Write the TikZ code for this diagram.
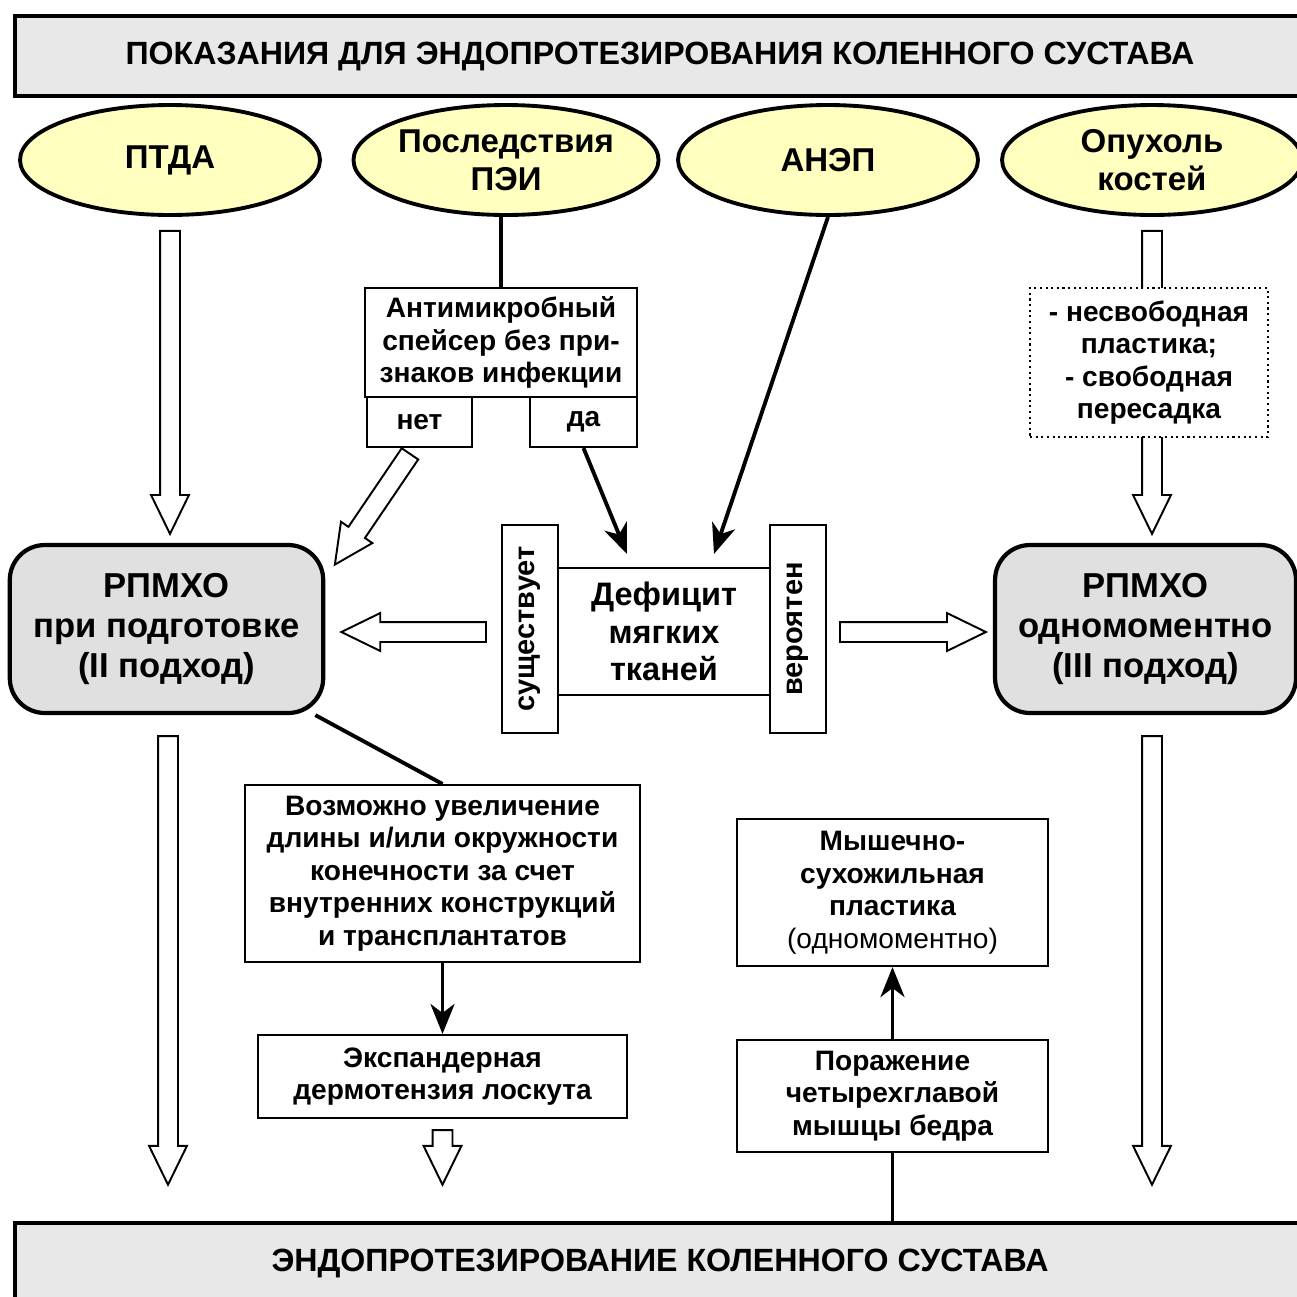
\documentclass[tikz,border=0pt]{standalone}
\usepackage{fontspec}
\setmainfont{Liberation Sans}
\usetikzlibrary{positioning}
\usetikzlibrary{calc}
\usetikzlibrary{arrows.meta}
\usetikzlibrary{shapes.geometric}
\usetikzlibrary{shapes.arrows}
\definecolor{ovalfill}{RGB}{255,255,192}
\definecolor{bannerfill}{RGB}{232,232,232}
\definecolor{approachfill}{RGB}{224,224,224}
\tikzset{
  banner/.style={draw, line width=2.6pt, fill=bannerfill, minimum width=25.8cm, minimum height=1.6cm, font=\fontsize{18.3}{21}\selectfont\bfseries},
  oval/.style={ellipse, draw, line width=2.2pt, fill=ovalfill, minimum width=6cm, minimum height=2.2cm, inner sep=0pt, align=center, font=\fontsize{18.8}{21.5}\selectfont\bfseries},
  approach/.style={draw, line width=2.4pt, fill=approachfill, rounded corners=0.7cm, minimum height=3.36cm, align=center, font=\fontsize{19.7}{22.7}\selectfont\bfseries},
  box/.style={draw, line width=1.2pt, fill=white, align=center, inner sep=0pt, font=\fontsize{16}{18.5}\selectfont\bfseries},
  bigtext/.style={font=\fontsize{18.5}{21.5}\selectfont\bfseries},
  sidetext/.style={font=\fontsize{16.5}{19}\selectfont\bfseries},
  hollow/.style={single arrow, draw, line width=1.1pt, fill=white, inner xsep=0pt, inner ysep=0.18cm, single arrow head extend=0.18cm, single arrow tip angle=52, single arrow head indent=0pt},
  link/.style={line width=2.2pt, -{Stealth[length=0.6cm, width=0.48cm, inset=0.18cm]}},
}
\newcommand{\hollowarrow}[2]{%
  \path let \p1=(#1), \p2=(#2), \n1={veclen(\x2-\x1,\y2-\y1)}, \n2={atan2(\y2-\y1,\x2-\x1)} in
    node[hollow, minimum height=\n1, rotate=\n2, anchor=tail] at (\p1) {};}

\begin{document}
\begin{tikzpicture}[x=0.02cm, y=-0.02cm]
  \useasboundingbox (0,0) rectangle (1297,1296);
  \clip (0,0) rectangle (1297,1296);

  \node[banner] (top) at (660,56) {ПОКАЗАНИЯ ДЛЯ ЭНДОПРОТЕЗИРОВАНИЯ КОЛЕННОГО СУСТАВА};
  \node[banner] (bottom) at (660,1263) {ЭНДОПРОТЕЗИРОВАНИЕ КОЛЕННОГО СУСТАВА};

  \foreach \n/\x/\t in {ptda/170/ПТДА, pei/506/{Последствия\\ПЭИ}, anep/828/АНЭП, tumor/1152/{Опухоль\\костей}} {
    \node[oval] (\n) at (\x,160) {\t};
  }

  \node[approach, minimum width=6.27cm] (rpl) at (166.5,629) {РПМХО\\при подготовке\\(II подход)};
  \node[approach, minimum width=6.02cm] (rpr) at (1145.5,629) {РПМХО\\одномоментно\\(III подход)};

  \node[box, minimum width=5.44cm, minimum height=2.18cm] (spacer) at (501,342.5) {Антимикробный\\спейсер без при-\\знаков инфекции};
  \node[box, minimum width=2.1cm, minimum height=1cm] (no) at (419.5,422) {нет};
  \node[box, minimum width=2.14cm, minimum height=1cm] (yes) at (583.5,422) {да};

  \node[box, bigtext, minimum width=4.24cm, minimum height=2.54cm] (deficit) at (664,631.5) {Дефицит\\мягких\\тканей};
  \node[box, sidetext, rotate=90, minimum width=4.16cm, minimum height=1.12cm] (exists) at (530,629) {существует};
  \node[box, sidetext, rotate=90, minimum width=4.16cm, minimum height=1.12cm] (likely) at (798,629) {вероятен};

  \node[box, minimum width=7.9cm, minimum height=3.54cm] (growth) at (442.5,873.5) {Возможно увеличение\\длины и/или окружности\\конечности за счет\\внутренних конструкций\\и трансплантатов};
  \node[box, minimum width=7.38cm, minimum height=1.66cm] (expander) at (442.5,1076.5) {Экспандерная\\дермотензия лоскута};
  \node[box, minimum width=6.22cm, minimum height=2.94cm] (plasty) at (892.5,892.5) {Мышечно-\\сухожильная\\пластика\\{\mdseries (одномоментно)}};
  \node[box, minimum width=6.22cm, minimum height=2.24cm] (quad) at (892.5,1096) {Поражение\\четырехглавой\\мышцы бедра};

  % hollow arrows
  \hollowarrow{$(ptda.south)+(0,13)$}{$(ptda.south |- rpl.north)+(0,-10)$}
  \hollowarrow{$(tumor.south)+(0,13)$}{$(tumor.south |- rpr.north)+(0,-10)$}
  \hollowarrow{$(no.south)+(-9,5)$}{$(rpl.north east)+(10,21)$}
  \hollowarrow{$(exists.north)+(-14,3)$}{$(rpl.east)+(17,3)$}
  \hollowarrow{$(likely.south)+(12,3)$}{$(rpr.west)+(-8,3)$}
  \hollowarrow{$(rpl.south)+(1.5,20)$}{$(rpl.south |- bottom.north)+(1.5,-37)$}
  \hollowarrow{$(tumor.south |- rpr.south)+(0,20)$}{$(tumor.south |- bottom.north)+(0,-37)$}
  \hollowarrow{$(expander.south)+(0,10)$}{$(expander.south |- bottom.north)+(0,-37)$}

  \node[box, dotted, line width=1pt, minimum width=4.76cm, minimum height=2.98cm] (flap) at (1149,362.5) {- несвободная\\пластика;\\- свободная\\пересадка};

  \draw[line width=2.2pt] (spacer.north |- pei.south) -- (spacer.north);
  \draw[link] (yes.south) -- ($(deficit.north west)+(70,-13)$);
  \draw[link] (anep.south) -- ($(deficit.north west)+(157,-13)$);
  \draw[line width=2.2pt] ($(rpl.south east)+(-10,0)$) -- (growth.north);
  \draw[link] (growth.south) -- (expander.north);
  \draw[link] (quad.north) -- (plasty.south);
  \draw[line width=2.2pt] (quad.south) -- (quad.south |- bottom.north);
\end{tikzpicture}
\end{document}
